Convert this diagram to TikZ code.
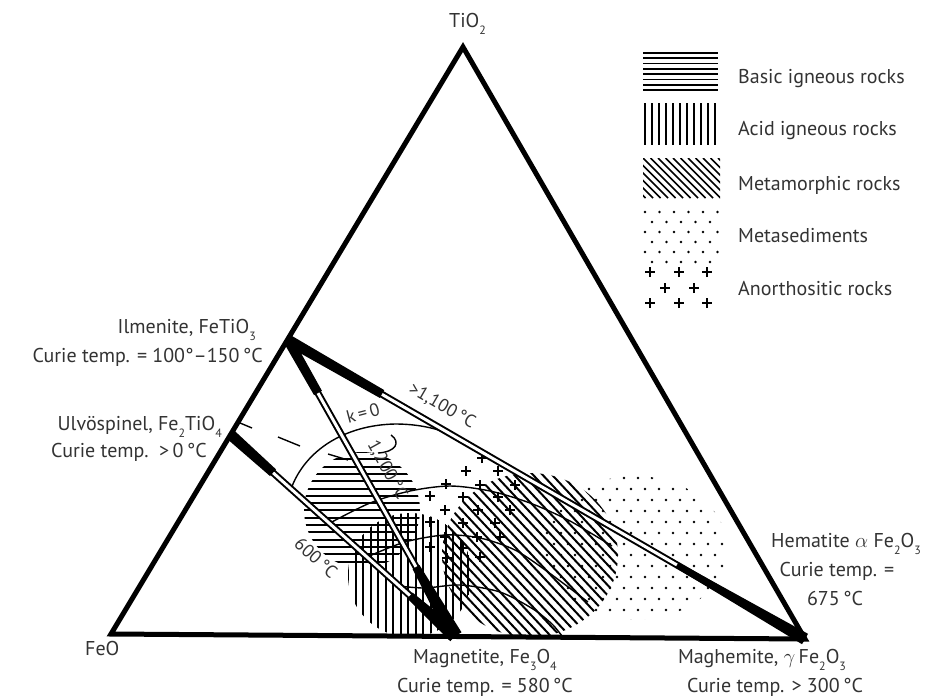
\documentclass[tikz,border=0pt]{standalone}
\usepackage{fontspec}
\setmainfont{PT Sans}
\usetikzlibrary{calc}
\newcommand{\sbs}[1]{\raisebox{-0.35em}{\fontsize{12}{12}\selectfont #1}}
\newcommand{\taper}[4]{\fill ($(#1)!#3!90:(#2)$) -- ($(#2)!#4!-90:(#1)$) -- ($(#2)!#4!90:(#1)$) -- ($(#1)!#3!-90:(#2)$) -- cycle;}
\definecolor{txt}{gray}{0.2}
\begin{document}
\begin{tikzpicture}[x=1pt,y=-1pt,
  lbl/.style={text=txt, font=\fontsize{20}{23}\selectfont, inner sep=0pt},
  tlbl/.style={text=txt, font=\fontsize{18}{20}\selectfont, inner sep=0pt},
  hatch/.style={line width=2pt},
  lhatch/.style={line width=1.7pt},
  curve/.style={line width=1.4pt},
  side/.style={line width=5pt, line join=miter},
  dbl/.style={line width=2pt, double=white, double distance=3pt},
  pls/.pic={\draw[line width=1.8pt] (-5pt,0)--(5pt,0) (0,-5pt)--(0,5pt);}]
\useasboundingbox (0,0) rectangle (932,697);
\fill[white] (0,0) rectangle (932,697);
% vertices and points
\coordinate (T) at (463,47);
\coordinate (F) at (111,634);
\coordinate (H) at (805,639);
\coordinate (I) at (288,340);
\coordinate (U) at (231,435);
\coordinate (M) at (455,636);
\coordinate (A1) at (273,472.7);
\coordinate (A2) at (410,595.6);
\coordinate (B1) at (318,393);
\coordinate (B2) at (416,567);
\coordinate (C1) at (382,394);
\coordinate (C2) at (677,565);

% ---- regions ----
\begin{scope}
  \clip (F) -- (T) -- (H) -- cycle;
  % metasediments
  \begin{scope}
    \clip (635,548) ellipse [x radius=92pt, y radius=72pt];
    \foreach \y in {478,500,...,622} \foreach \x in {540,554,...,730} \fill (\x,\y) circle (1.4pt);
    \foreach \y in {489,511,...,622} \foreach \x in {547,561,...,730} \fill (\x,\y) circle (1.4pt);
  \end{scope}
  % metamorphic
  \begin{scope}
    \clip (530,555) ellipse [x radius=88pt, y radius=82pt];
    \foreach \c in {380,389.5,...,690} \draw[hatch] ({\c-100},448) -- ({\c+100},662);
  \end{scope}
  % basic igneous
  \begin{scope}
    \clip (362,510) circle (58pt);
    \foreach \y in {452,459.3,...,572} \draw[hatch] (300,\y) -- (425,\y);
  \end{scope}
  % acid igneous
  \begin{scope}
    \clip (410,575) circle (62pt);
    \foreach \x in {348,355.5,...,475} \draw[hatch] (\x,510) -- (\x,640);
  \end{scope}
\end{scope}
% anorthositic
\foreach \p in {(482,458),(466,471),(498,471),(446,484),(480,485),(515,485),
  (430,496),(463,497),(498,497),(445,510),(478,510),(510,510),
  (430,522),(463,523),(495,523),(445,537),(477,537),(500,537),
  (430,547),(463,548),(447,558),(480,557)}
  \pic at \p {pls};

% ---- curves ----
\draw[curve] (291,489) .. controls (305,450) and (345,425) .. (395,424)
  .. controls (430,424) and (455,434) .. (476,447);
\draw[curve] plot[smooth] coordinates {(330,523) (370,503) (410,491) (450,486) (490,491) (530,503) (570,521) (612,546)};
\draw[curve] plot[smooth] coordinates {(367,557) (405,542) (445,535) (480,538) (515,550) (548,572) (588,602)};
\draw[curve] plot[smooth] coordinates {(399,586) (425,588) (460,585) (500,592) (533,609) (552,624) (562,636)};
% dashed trace and small arc
\draw[curve] (240,423) -- (252,428);
\draw[curve] (278,437) -- (300,446);
\draw[curve] (328,454) -- (348,460);
\draw[curve] (391,435) .. controls (401,442) and (396,452) .. (378,453);

% ---- tie lines ----
\draw[dbl] (U) -- (M);
\draw[dbl] (I) -- (M);
\draw[dbl] (I) -- (H);
\taper{A1}{U}{4.5pt}{5.5pt}
\taper{A2}{M}{4pt}{7pt}
\taper{B1}{I}{4.5pt}{5pt}
\taper{B2}{M}{4pt}{7.5pt}
\taper{C1}{I}{4.5pt}{5.5pt}
\taper{C2}{H}{3pt}{6pt}

% ---- triangle ----
\draw[side] (F) -- (T) -- (H) -- cycle;

% ---- line labels ----
\node[tlbl, rotate=-30] (t1100) at (442,406) {>1,100\,°C};
\node[tlbl, rotate=-61] (t1200) at (387,470) {1,200\,°C};
\node[tlbl, rotate=-42] (t600) at (316,558) {600\,°C};
\node[tlbl, rotate=15] (tk) at (363,413) {k\,=\,0};

% ---- vertex labels ----
\node[lbl, anchor=base west] (lTi) at (449,27) {TiO\sbs{2}};
\node[lbl, anchor=base west] (lFeO) at (85,655) {FeO};
\node[lbl, anchor=base east] (lIl1) at (256,333) {Ilmenite, FeTiO\sbs{3}};
\node[lbl, anchor=base east] (lIl2) at (263,362) {Curie temp. = 100°–150\,°C};
\node[lbl, anchor=base east] (lUl1) at (222,430) {Ulvöspinel, Fe\sbs{2}TiO\sbs{4}};
\node[lbl, anchor=base east] (lUl2) at (207,457) {Curie temp.\ \ >\,0\,°C};
\node[lbl, anchor=base] (lHe1) at (846,547) {Hematite $\alpha$ Fe\sbs{2}O\sbs{3}};
\node[lbl, anchor=base] (lHe2) at (837,576) {Curie temp. =};
\node[lbl, anchor=base] (lHe3) at (835,605) {675\,°C};
\node[lbl, anchor=base] (lMh1) at (762,663) {Maghemite, $\gamma$\,Fe\sbs{2}O\sbs{3}};
\node[lbl, anchor=base] (lMh2) at (775,692) {Curie temp. > 300\,°C};
\node[lbl, anchor=base] (lMg1) at (485,663) {Magnetite, Fe\sbs{3}O\sbs{4}};
\node[lbl, anchor=base] (lMg2) at (485,692) {Curie temp. = 580\,°C};

% ---- legend ----
\foreach \k in {0,...,7} \draw[lhatch] (643,{53+5.3*\k}) -- (718,{53+5.3*\k});
\foreach \k in {0,...,10} \draw[lhatch] ({645+7*\k},103) -- ({645+7*\k},145);
\begin{scope}
  \clip (643,158) rectangle (720,198);
  \foreach \c in {598,605.5,...,725} \draw[lhatch] (\c,158) -- ({\c+40},198);
\end{scope}
\foreach \r in {212,232,252} \foreach \x in {645,659.5,...,718} \fill (\x,\r) circle (1.3pt);
\foreach \r in {222,242,262} \foreach \x in {652,666.5,...,718} \fill (\x,\r) circle (1.3pt);
\foreach \p in {(650,272),(679,272),(707,272),(665,288),(694,288),(650,303),(679,303),(707,303)}
  \pic at \p {pls};
\node[lbl, anchor=base west] (g1) at (738,83) {Basic igneous rocks};
\node[lbl, anchor=base west] (g2) at (738,135) {Acid igneous rocks};
\node[lbl, anchor=base west] (g3) at (738,190) {Metamorphic rocks};
\node[lbl, anchor=base west] (g4) at (738,242) {Metasediments};
\node[lbl, anchor=base west] (g5) at (738,295) {Anorthositic rocks};
\end{tikzpicture}
\end{document}
